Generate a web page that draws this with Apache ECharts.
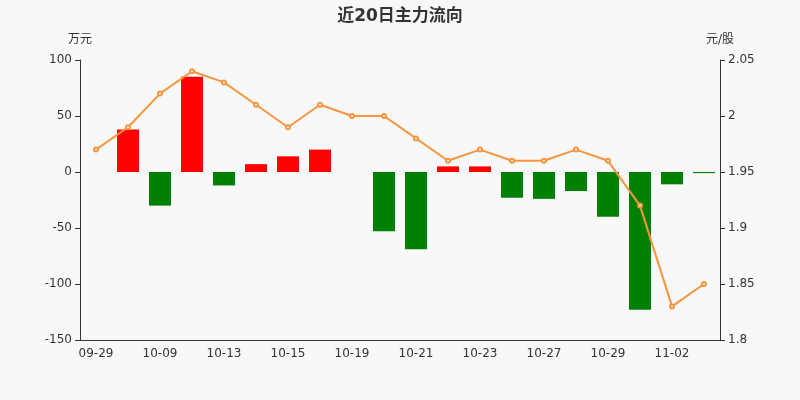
<!DOCTYPE html>
<html style="height: 100%">
<head>
    <meta charset="utf-8">
    <title>近20日主力流向</title>
</head>
<body style="height: 100%; margin: 0; background: #f8f8f8;">
<div id="container" style="width: 800px; height: 400px"></div>
<script type="text/javascript" src="https://cdn.jsdelivr.net/npm/echarts@6/dist/echarts.min.js"></script>
<script type="text/javascript">

    // 日期
    var dates = ['09-29', '09-30', '10-09', '10-12', '10-13', '10-14', '10-15', '10-16', '10-19', '10-20',
        '10-21', '10-22', '10-23', '10-26', '10-27', '10-28', '10-29', '10-30', '11-02', '11-03'];
    // 主力净流入（万元）
    var flow = [0, 38, -30, 85, -12, 7, 14, 20, 0, -53,
        -69, 5, 5, -23, -24, -17, -40, -123, -11, -1];
    // 收盘价（元/股）
    var price = [1.97, 1.99, 2.02, 2.04, 2.03, 2.01, 1.99, 2.01, 2.00, 2.00,
        1.98, 1.96, 1.97, 1.96, 1.96, 1.97, 1.96, 1.92, 1.83, 1.85];

    var dom = document.getElementById("container");
    var myChart = echarts.init(dom);
    var font = "'DejaVu Sans', 'Noto Sans CJK SC', sans-serif";
    var axisStyle = {
        axisLine: {show: true, lineStyle: {color: '#333'}},
        axisTick: {show: true, lineStyle: {color: '#333'}},
        axisLabel: {color: '#333', fontSize: 12, fontFamily: font},
        splitLine: {show: false}
    };
    var option = {
        backgroundColor: '#f8f8f8',
        animation: false,
        textStyle: {fontFamily: font},
        title: {
            text: '近20日主力流向',
            left: 'center',
            top: 3,
            textStyle: {color: '#333', fontSize: 17, fontWeight: 'bold', fontFamily: font}
        },
        grid: {
            left: 80,
            right: 80,
            top: 60,
            bottom: 60
        },
        xAxis: {
            type: 'category',
            data: dates,
            axisLine: {lineStyle: {color: '#333'}, onZero: false},
            axisTick: {interval: 1, lineStyle: {color: '#333'}},
            axisLabel: {interval: 1, color: '#333', fontSize: 12, fontFamily: font}
        },
        yAxis: [
            Object.assign({
                type: 'value',
                name: '万元',
                nameGap: 14,
                nameTextStyle: {color: '#333', fontSize: 12, align: 'center', fontFamily: font},
                min: -150,
                max: 100,
                interval: 50
            }, axisStyle),
            Object.assign({
                type: 'value',
                name: '元/股',
                nameGap: 14,
                nameTextStyle: {color: '#333', fontSize: 12, align: 'center', fontFamily: font},
                min: 1.8,
                max: 2.05,
                interval: 0.05
            }, axisStyle)
        ],
        series: [
            {
                name: '主力净流入',
                type: 'bar',
                barWidth: 22,
                data: flow.map(function (v) {
                    return {
                        value: v,
                        itemStyle: {color: v >= 0 ? '#ff0000' : '#008000'}
                    };
                })
            },
            {
                name: '收盘价',
                type: 'line',
                yAxisIndex: 1,
                data: price,
                symbol: 'emptyCircle',
                symbolSize: 4,
                lineStyle: {color: '#f7953f', width: 2},
                itemStyle: {color: '#f7953f'}
            }
        ]
    };
    myChart.setOption(option, true);

</script>
</body>
</html>
